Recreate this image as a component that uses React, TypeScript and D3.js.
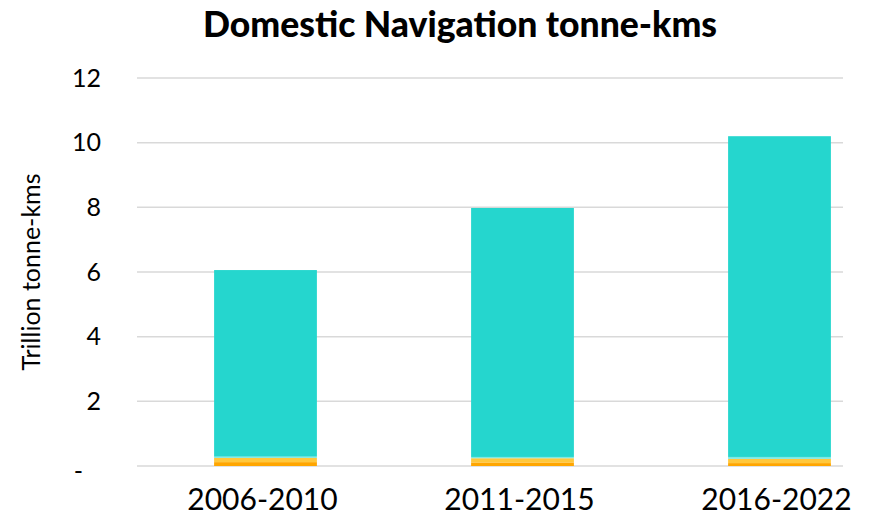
import React, { useEffect, useRef } from 'react';
import * as d3 from 'd3';

const categories = ['2006-2010', '2011-2015', '2016-2022'];
const seriesNames = ['Dark orange', 'Yellow', 'Light cyan', 'Teal'];
const darkOrange = [0.12, 0.11, 0.09];
const yellow = [0.13, 0.13, 0.13];
const lightCyan = [0.04, 0.04, 0.06];
const teal = [5.77, 7.7, 9.92];
const yTicks = [0, 2, 4, 6, 8, 10, 12];
const colors = ['#FFA600', '#FFC83D', '#7FE9E3', '#25D6CE'];

const W = 895;
const H = 517;

const App: React.FC = () => {
  const svgRef = useRef<SVGSVGElement>(null);

  useEffect(() => {
    if (!svgRef.current) return;
    const svg = d3.select(svgRef.current);
    svg.selectAll('*').remove();

    const margin = { top: 78, bottom: 51, left: 137 };
    const plotRight = 843;

    const rows = categories.map((c, i) => ({
      cat: c,
      [seriesNames[0]]: darkOrange[i],
      [seriesNames[1]]: yellow[i],
      [seriesNames[2]]: lightCyan[i],
      [seriesNames[3]]: teal[i],
    }));
    const stacked = d3.stack<any>().keys(seriesNames)(rows);

    // band spacing wider than the visible plot; the picture is cropped on the right
    const x = d3.scaleBand().domain(categories).range([margin.left, 908]).paddingInner(0.6).paddingOuter(0.3);
    const y = d3.scaleLinear().domain([0, 12]).range([H - margin.bottom, margin.top]);

    // Grid
    svg.append('g')
      .selectAll('line')
      .data(yTicks)
      .enter().append('line')
      .attr('x1', margin.left)
      .attr('x2', plotRight)
      .attr('y1', d => y(d))
      .attr('y2', d => y(d))
      .attr('stroke', '#d9d9d9')
      .attr('stroke-width', 1.5);

    // Bars
    svg.append('g')
      .selectAll('g')
      .data(stacked)
      .enter().append('g')
      .attr('fill', (_, i) => colors[i])
      .selectAll('rect')
      .data(d => d)
      .enter().append('rect')
      .attr('x', d => x(d.data.cat) as number)
      .attr('width', x.bandwidth())
      .attr('y', d => y(d[1]))
      .attr('height', d => y(d[0]) - y(d[1]));

    const font = 'Lato, "Open Sans", sans-serif';

    // Y tick labels
    svg.append('g')
      .selectAll('text')
      .data(yTicks)
      .enter().append('text')
      .attr('x', d => (d === 0 ? 83 : 101))
      .attr('y', d => y(d) + (d === 0 ? 5 : 0))
      .attr('dy', '0.35em')
      .attr('text-anchor', 'end')
      .style('font-family', font)
      .style('font-size', '25px')
      .style('fill', '#000')
      .text(d => (d === 0 ? '-' : String(d)));

    // X labels
    svg.append('g')
      .selectAll('text')
      .data(categories)
      .enter().append('text')
      .attr('x', d => (x(d) as number) + x.bandwidth() / 2 - 3)
      .attr('y', 510)
      .attr('text-anchor', 'middle')
      .style('font-family', font)
      .style('font-size', '30px')
      .style('fill', '#000')
      .text(d => d);

    // Axis title
    svg.append('text')
      .attr('transform', `translate(40,${(y(0) + y(12)) / 2}) rotate(-90)`)
      .attr('text-anchor', 'middle')
      .style('font-family', font)
      .style('font-size', '25px')
      .style('fill', '#000')
      .text('Trillion tonne-kms');

    // Title
    svg.append('text')
      .attr('x', 460)
      .attr('y', 37)
      .attr('text-anchor', 'middle')
      .style('font-family', font)
      .style('font-weight', 900)
      .style('font-size', '35.5px')
      .style('fill', '#000')
      .text('Domestic Navigation tonne-kms');
  }, []);

  return (
    <div style={{ position: 'fixed', top: 0, left: 0, width: W, height: H, background: '#fff' }}>
      <svg ref={svgRef} width={W} height={H} style={{ display: 'block' }} />
    </div>
  );
};

export default App;
